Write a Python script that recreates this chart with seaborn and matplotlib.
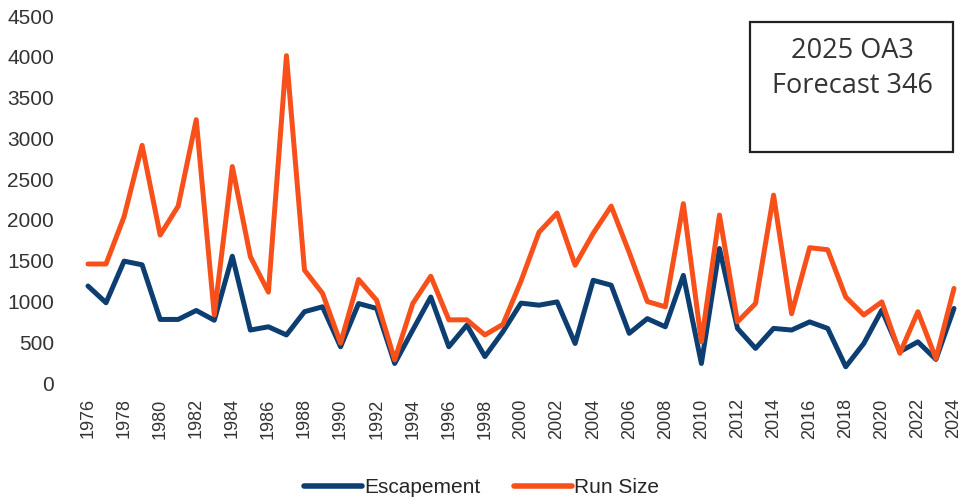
import matplotlib
matplotlib.use("Agg")
import matplotlib.pyplot as plt
import pandas as pd
import seaborn as sns
from matplotlib.patches import Rectangle

years = list(range(1976, 2025))
escapement = [
    1190, 985, 1495, 1450, 780, 780, 890, 770, 1555, 650,
    690, 590, 875, 935, 445, 975, 915, 240, 650, 1055,
    445, 710, 325, 630, 980, 955, 995, 485, 1260, 1200,
    610, 790, 690, 1320, 240, 1650, 670, 425, 670, 650,
    750, 670, 200, 485, 895, 385, 505, 290, 915,
]
run_size = [
    1460, 1460, 2040, 2915, 1815, 2170, 3230, 835, 2655, 1550,
    1115, 4015, 1385, 1100, 490, 1270, 1015, 285, 975, 1310,
    775, 775, 590, 720, 1250, 1850, 2085, 1445, 1835, 2170,
    1600, 1000, 935, 2200, 505, 2060, 750, 975, 2305, 850,
    1660, 1635, 1055, 835, 995, 365, 875, 300, 1160,
]
series_names = ["Escapement", "Run Size"]
series_colors = ["#0D3E72", "#F8501A"]
box_lines = ["2025 OA3", "Forecast 346"]

df = pd.DataFrame({"Year": years, "Escapement": escapement, "Run Size": run_size})
long = df.melt(id_vars="Year", var_name="Series", value_name="Fish")

sns.set_style("white")
plt.rcParams["font.family"] = ["Liberation Sans", "DejaVu Sans"]

fig = plt.figure(figsize=(9.63, 5.04), dpi=100)
ax = fig.add_axes([0.082, 0.240, 0.918, 0.728])

sns.lineplot(
    data=long, x="Year", y="Fish", hue="Series", hue_order=series_names,
    palette=series_colors, linewidth=3.6, ax=ax, legend=False,
)

ax.set_xlim(1975.5, 2024.5)
ax.set_ylim(0, 4500)
ax.set_xticks(years[::2])
ax.set_xticklabels([str(y) for y in years[::2]], rotation=90, fontsize=13,
                   color="#333333")
ax.set_yticks(range(0, 4501, 500))
ax.tick_params(axis="y", labelsize=15, labelcolor="#333333", length=0, pad=18)
ax.tick_params(axis="x", length=0, pad=11)
ax.set_xlabel("")
ax.set_ylabel("")
sns.despine(ax=ax, left=True, bottom=True)

# legend below the axes
handles = [plt.Line2D([], [], color=c, linewidth=4) for c in series_colors]
fig.legend(handles, series_names, loc="center", bbox_to_anchor=(0.5, 0.033),
           ncol=2, frameon=False, fontsize=15, handlelength=2.8,
           handletextpad=0.1, columnspacing=1.6)

# forecast box
fig.patches.append(Rectangle((0.779, 0.698), 0.211, 0.258, transform=fig.transFigure,
                             facecolor="white", edgecolor="#222222", linewidth=1.6))
fig.text(0.885, 0.898, box_lines[0], ha="center", va="center", fontsize=19.5,
         family="Open Sans", color="#333333")
fig.text(0.885, 0.830, box_lines[1], ha="center", va="center", fontsize=19.5,
         family="Open Sans", color="#333333")

fig.savefig("out.png", dpi=100)
